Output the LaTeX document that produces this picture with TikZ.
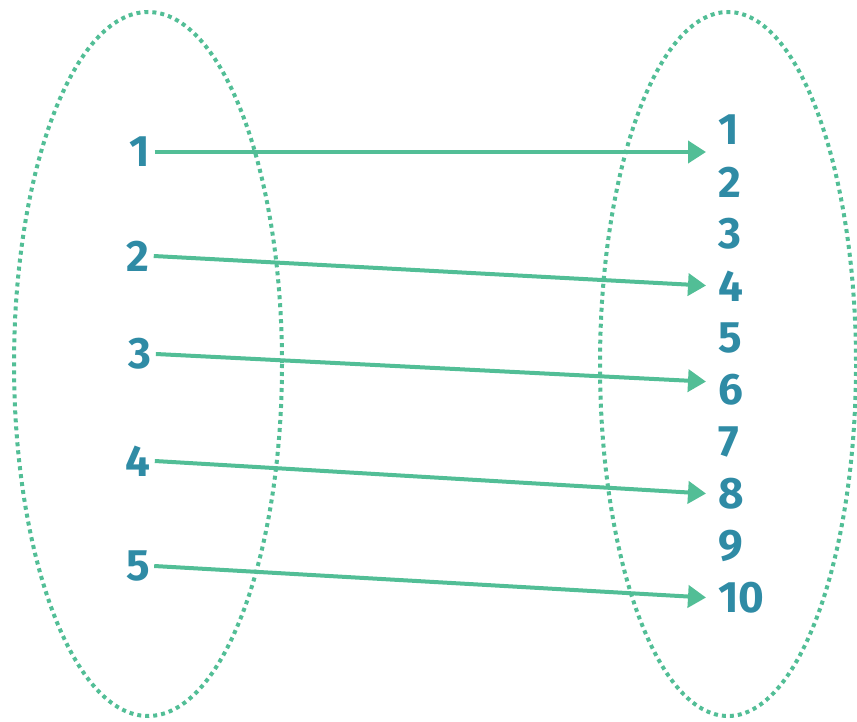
\documentclass[tikz,border=0pt]{standalone}
\usepackage{fontspec}
\setmainfont{Fira Sans}
\usepackage{tikz}
\usetikzlibrary{arrows.meta,positioning,calc}
\definecolor{setgreen}{RGB}{82,190,150}
\definecolor{numblue}{RGB}{47,139,165}

\begin{document}
\begin{tikzpicture}[
    x=0.5pt,
    y=-0.5pt,
    >=Latex
]

\tikzset{
    n/.style={
        text=numblue,
        inner sep=2pt,
        font=\fontsize{22}{26}\selectfont\bfseries
    },
    set/.style={
        draw=setgreen,
        line width=2pt,
        dash pattern=on 2pt off 2pt
    },
    link/.style={
        draw=setgreen,
        line width=2pt,
        -{Triangle[length=9pt,width=11pt]},
        shorten >=4pt
    }
}

\useasboundingbox (0,0) rectangle (857,722);

\draw[set] (148,364) ellipse [x radius=134, y radius=352];
\draw[set] (728,364) ellipse [x radius=128, y radius=352];

% domain
\node[n] (l1) at (140,152) {1};
\node[n] (l2) at (138,256) {2};
\node[n] (l3) at (140,354) {3};
\node[n] (l4) at (138,461) {4};
\node[n] (l5) at (138,566) {5};

% codomain
\foreach \k in {1,...,10}
{
    \node[n,anchor=west] (r\k) at (714,{130+52*(\k-1)}) {\k};
}

\draw[link] (l1.east) -- (l1.east -| r1.west);
\draw[link] (l2.east) -- (r4.west);
\draw[link] (l3.east) -- ([yshift=4pt]r6.west);
\draw[link] (l4.east) -- (r8.west);
\draw[link] (l5.east) -- (r10.west);

\end{tikzpicture}
\end{document}
